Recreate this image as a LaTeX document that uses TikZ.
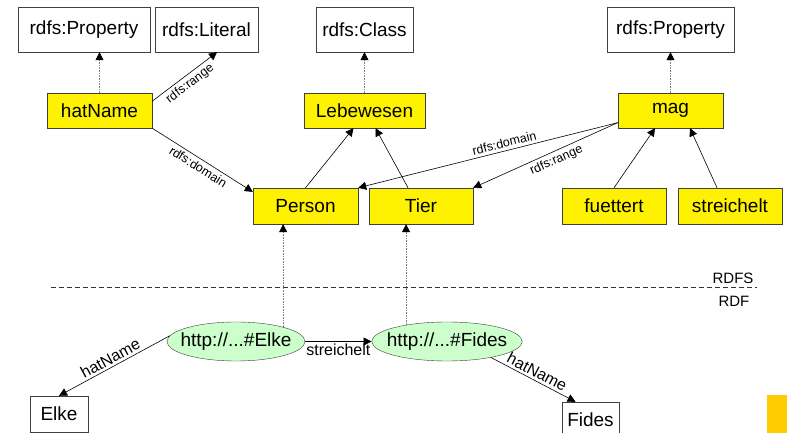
\documentclass[tikz,border=0pt]{standalone}
\usepackage{fontspec}
\setmainfont{Liberation Sans}
\usetikzlibrary{arrows.meta,shapes.geometric}
\definecolor{slideorange}{RGB}{255,204,0}

\begin{document}
\begin{tikzpicture}[x=1pt,y=1pt]
    \tikzstyle{box}=[rectangle, draw=black!75, fill=white, inner sep=0pt, minimum height=45, font=\fontsize{19}{22}\selectfont, text=black]
    \tikzstyle{res}=[box, fill=yellow, minimum height=35]
    \tikzstyle{inst}=[ellipse, draw=black!75, fill=green!20, inner xsep=-7pt, inner ysep=0pt, minimum width=138, minimum height=39, font=\fontsize{19}{22}\selectfont]
    \tikzstyle{edge}=[black, line width=0.6pt, -{Triangle[length=8pt,width=8pt,color=black]}]
    \tikzstyle{type}=[edge, draw=gray, densely dotted]
    \tikzstyle{lab}=[font=\fontsize{12.5}{14}\selectfont, inner sep=3pt]
    \tikzstyle{lab2}=[font=\fontsize{16}{18}\selectfont, inner sep=2.5pt]

    \useasboundingbox (0,0) rectangle (787,433);
    \clip (0,0) rectangle (787,433);

    \node[box, minimum width=132] (propA) at (84,403.5) {rdfs:Property};
    \node[box, minimum width=103] (literal) at (206.5,403.5) {rdfs:Literal};
    \node[box, minimum width=97] (class) at (364.5,403.5) {rdfs:Class};
    \node[box, minimum width=127] (propB) at (670.5,403.5) {rdfs:Property};
    \node[res, minimum width=105] (hatName) at (99.5,322.5) {hatName};
    \node[res, minimum width=121] (lebewesen) at (364.5,322.5) {Lebewesen};
    \node[res, minimum width=105] (mag) at (670.5,322.5) {mag};
    \node[res, minimum width=105, minimum height=36] (person) at (305.5,227) {Person};
    \node[res, minimum width=104, minimum height=36] (tier) at (421,227) {Tier};
    \node[res, minimum width=104, minimum height=36] (fuettert) at (614,227) {fuettert};
    \node[res, minimum width=104, minimum height=36] (streichelt) at (730,227) {streichelt};
    \node[inst] (elke) at (236,91.5) {http://...\#Elke};
    \node[inst] (fides) at (447,91.5) {http://...\#Fides};
    \node[box, minimum width=58, minimum height=36] (elkeLit) at (59,19) {Elke};
    \node[box, minimum width=57, minimum height=36] (fidesLit) at (590.5,13) {Fides};

    \draw[black!80, dash pattern=on 5pt off 3pt] (51,146) -- (757,146);
    \node[anchor=east, font=\fontsize{15}{17}\selectfont] (rdfsLab) at (757,155) {RDFS};
    \node[anchor=west, font=\fontsize{15}{17}\selectfont] (rdfLab) at (715,132) {RDF};

    \draw[type] (hatName.north) -- (hatName.north |- propA.south);
    \draw[type] (lebewesen.north) -- (class.south);
    \draw[type] (mag.north) -- (propB.south);
    \draw[type] (elke.17) -- (elke.17 |- person.south);
    \draw[type] (fides.158) -- (fides.158 |- tier.south);

    \draw[edge] (hatName.10) -- node[lab, below, sloped] {rdfs:range} (literal.-65);
    \draw[edge] (hatName.south east) -- node[lab, below, sloped] {rdfs:domain} (person.165);
    \draw[edge] (person.north) -- ([xshift=-11]lebewesen.south);
    \draw[edge] ([xshift=-13]tier.north) -- ([xshift=11]lebewesen.south);
    \draw[edge] (mag.-167) -- node[lab, above, sloped, pos=0.43] {rdfs:domain} (person.north east);
    \draw[edge] (mag.-167) -- node[lab, below, sloped, pos=0.45] {rdfs:range} (tier.north east);
    \draw[edge] (fuettert.north) -- ([xshift=-15.5]mag.south);
    \draw[edge] ([xshift=-13]streichelt.north) -- ([xshift=19.5]mag.south);
    \draw[edge] (elke.175) -- node[lab2, above, sloped] {hatName} (elkeLit.north);
    \draw[edge] (elke.east) -- node[lab2, below] {streichelt} (fides.west);
    \draw[edge] (fides.-20) -- node[lab2, above, sloped] {hatName} ([xshift=-15]fidesLit.north);

    \fill[slideorange] (767,0) rectangle (787,38);
\end{tikzpicture}
\end{document}
